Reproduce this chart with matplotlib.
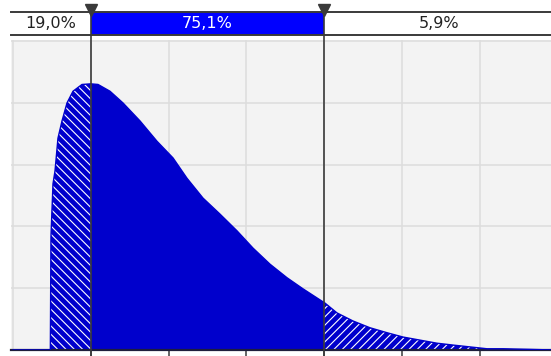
"""Curva de densidade com delimitadores e barra de percentuais no topo."""

import matplotlib

matplotlib.use("Agg")
import matplotlib.pyplot as plt


# valores (x em unidades de grade, y em unidades de grade)
DENSITY_X = [
    0.00, 0.48, 0.488, 0.514, 0.540, 0.578, 0.630, 0.694, 0.771, 0.887,
    1.000, 1.093, 1.247, 1.414, 1.632, 1.851, 2.057, 2.237, 2.442, 2.661,
    2.879, 3.085, 3.303, 3.522, 3.728, 3.972, 4.000, 4.165, 4.370, 4.589,
    4.807, 5.013, 5.231, 5.450, 5.656, 5.874, 6.093, 6.298, 6.650, 6.950,
]
DENSITY_Y = [
    0.00, 0.00, 1.84, 2.69, 2.90, 3.43, 3.71, 4.00, 4.19, 4.30,
    4.31, 4.30, 4.19, 4.00, 3.71, 3.38, 3.11, 2.78, 2.46, 2.20,
    1.93, 1.65, 1.39, 1.17, 0.99, 0.79, 0.77, 0.60, 0.47, 0.36,
    0.28, 0.21, 0.16, 0.11, 0.08, 0.05, 0.02, 0.02, 0.01, 0.00,
]
DELIMITERS = [1.0, 4.0]
PERCENT_LABELS = ["19,0%", "75,1%", "5,9%"]
X_MIN = -0.02
X_MAX = 6.95

FILL_BLUE = "#0000CC"
BAR_BLUE = "#0000FF"
DARK = "#3A3A3A"
GRID = "#DCDCDC"

FIG_W, FIG_H = 551, 356
PX_PER_UNIT = 77.8
LEFT_PX = 13 + X_MIN * PX_PER_UNIT

plt.rcParams["font.family"] = "DejaVu Sans"
plt.rcParams["hatch.linewidth"] = 0.8


def draw_bar(fig: plt.Figure) -> plt.Axes:
    """Desenha a barra de percentuais acima do gráfico."""
    width = (X_MAX - X_MIN) * PX_PER_UNIT / FIG_W
    bar_ax = fig.add_axes([LEFT_PX / FIG_W, (FIG_H - 35) / FIG_H, width, 23 / FIG_H])
    bar_ax.set_xlim(X_MIN, X_MAX)
    bar_ax.set_ylim(0, 1)
    bar_ax.set_xticks([])
    bar_ax.set_yticks([])
    for side in ("left", "right"):
        bar_ax.spines[side].set_visible(False)
    for side in ("top", "bottom"):
        bar_ax.spines[side].set_color(DARK)
        bar_ax.spines[side].set_linewidth(1.4)

    bounds = [X_MIN] + DELIMITERS + [X_MAX]
    colors = ["white", BAR_BLUE, "white"]
    text_colors = ["#222222", "white", "#222222"]
    for i, label in enumerate(PERCENT_LABELS):
        bar_ax.axvspan(bounds[i], bounds[i + 1], color=colors[i], lw=0)
        bar_ax.text(
            (bounds[i] + bounds[i + 1]) / 2, 0.5, label,
            ha="center", va="center", fontsize=11.5, color=text_colors[i],
        )

    bar_ax.plot(
        DELIMITERS, [1.09] * len(DELIMITERS), "v",
        color=DARK, markersize=9, clip_on=False, zorder=5,
    )
    return bar_ax


def draw_density(fig: plt.Figure) -> plt.Axes:
    """Desenha a curva preenchida, com as caudas hachuradas."""
    width = (X_MAX - X_MIN) * PX_PER_UNIT / FIG_W
    ax = fig.add_axes([LEFT_PX / FIG_W, 6 / FIG_H, width, 310 / FIG_H])
    ax.set_facecolor("#F3F3F3")
    ax.set_xlim(X_MIN, X_MAX)
    ax.set_ylim(0, 5.02)

    left, right = DELIMITERS
    x, y = DENSITY_X, DENSITY_Y
    ax.fill_between(
        x, y, where=[v <= left for v in x], facecolor=FILL_BLUE,
        edgecolor="white", hatch="\\\\\\\\", linewidth=0, zorder=2,
    )
    ax.fill_between(
        x, y, where=[left <= v <= right for v in x], facecolor=FILL_BLUE,
        linewidth=0, zorder=2,
    )
    ax.fill_between(
        x, y, where=[v >= right for v in x], facecolor=FILL_BLUE,
        edgecolor="white", hatch="////", linewidth=0, zorder=2,
    )
    ax.plot(x, y, color=FILL_BLUE, lw=1.0, zorder=3)

    ax.set_xticks(range(1, 7))
    ax.set_yticks(range(1, 6))
    ax.set_xticklabels([])
    ax.set_yticklabels([])
    ax.grid(True, color=GRID, lw=1.1, zorder=0)
    ax.axvline(0, color=GRID, lw=1.1, zorder=0)
    ax.set_axisbelow(True)
    ax.tick_params(axis="x", direction="out", length=5, width=1.1, color=DARK)
    ax.tick_params(axis="y", length=0)

    for side in ("top", "left", "right"):
        ax.spines[side].set_visible(False)
    ax.spines["bottom"].set_color("#1E1E3C")
    ax.spines["bottom"].set_linewidth(1.6)

    for d in DELIMITERS:
        ax.axvline(
            d, ymin=-6 / 310, ymax=(350 - 12) / 310,
            color=DARK, lw=1.2, clip_on=False, zorder=6,
        )
    return ax


def main() -> None:
    fig = plt.figure(figsize=(FIG_W / 100, FIG_H / 100), dpi=100)
    fig.patch.set_facecolor("white")
    draw_bar(fig)
    draw_density(fig)
    fig.savefig("out.png", dpi=100)
    plt.close(fig)


if __name__ == "__main__":
    main()
